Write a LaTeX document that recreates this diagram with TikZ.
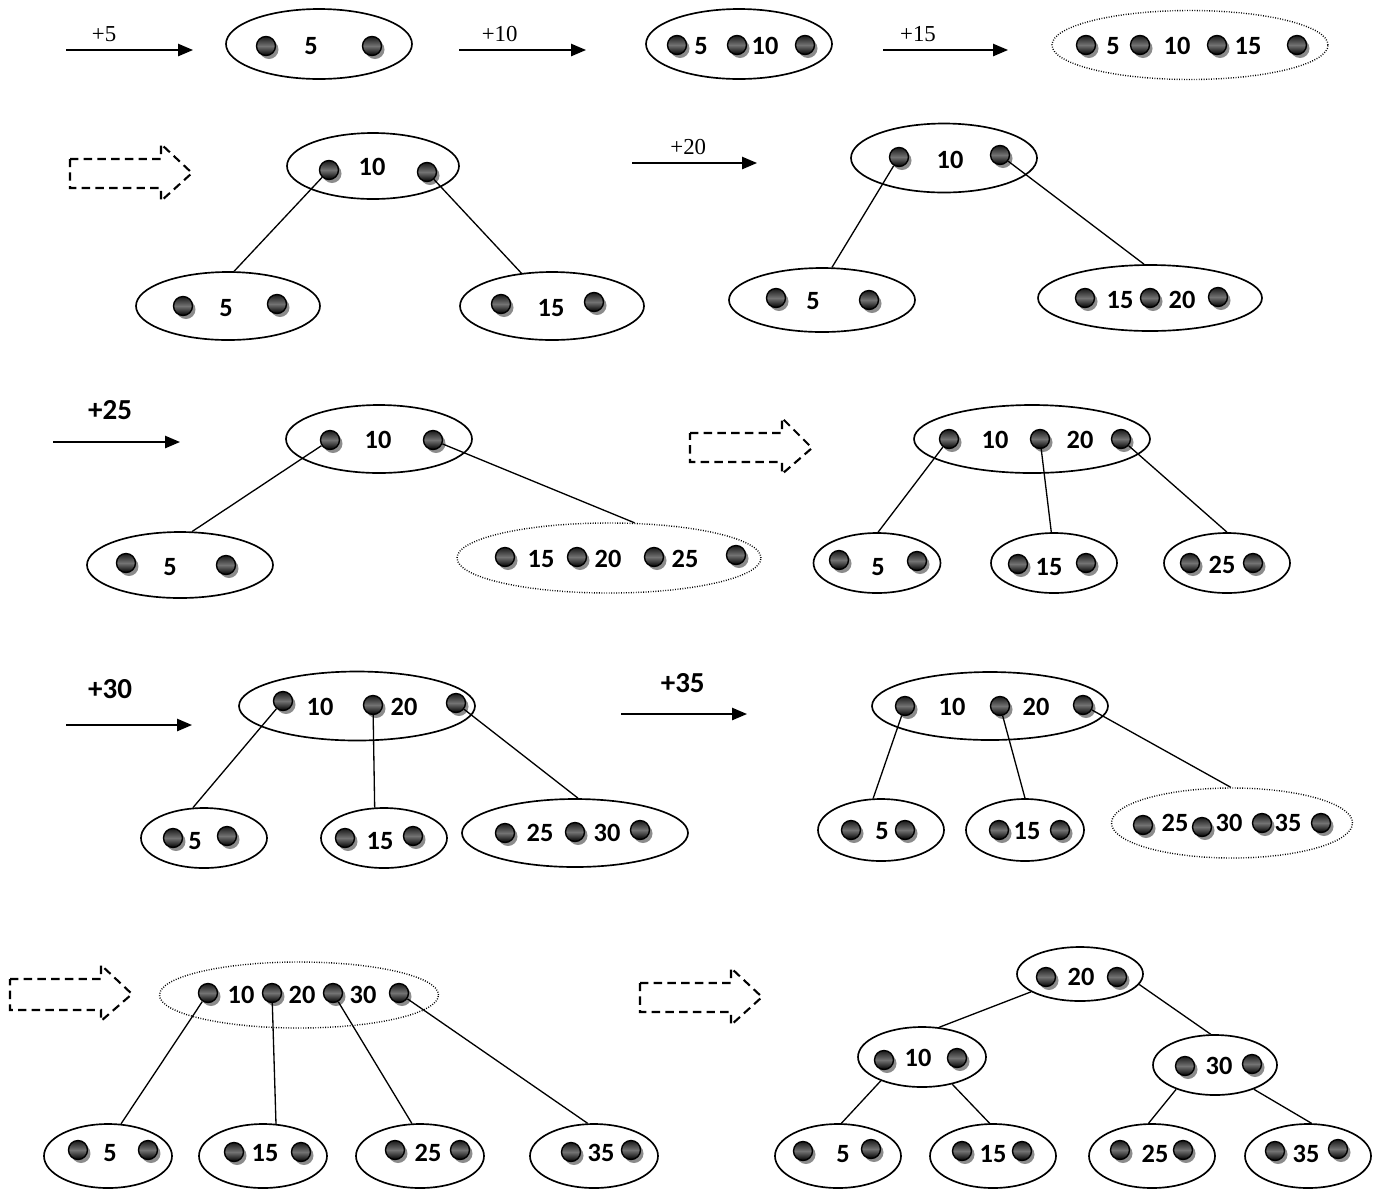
\documentclass[tikz,border=0pt]{standalone}
\usepackage{fontspec}
\newfontfamily\keyfont{Carlito}
\newfontfamily\plusfont{Liberation Serif}
\usetikzlibrary{shapes.geometric, arrows.meta, shadows}

\begin{document}
\begin{tikzpicture}[x=0.02cm, y=-0.02cm, line width=0.75pt,
    bnode/.style 2 args={draw, ellipse, line width=0.95pt, inner sep=0pt,
        minimum width=#1*0.02cm, minimum height=#2*0.02cm},
    overfull/.style 2 args={bnode={#1}{#2}, line width=0.8pt, dash pattern=on 0.5pt off 0.9pt},
    ball/.style={circle, draw, line width=0.8pt, inner sep=0pt, minimum size=0.38cm,
        top color=black!90, bottom color=black, middle color=black!55,
        drop shadow={shadow xshift=0.06cm, shadow yshift=-0.07cm, fill=black!45, opacity=1}},
    key/.style={font=\keyfont\bfseries\fontsize{15pt}{17pt}\selectfont, inner sep=0pt},
    bigplus/.style={font=\keyfont\bfseries\fontsize{16.5pt}{18pt}\selectfont},
    plus/.style={font=\plusfont\fontsize{13pt}{15pt}\selectfont},
    add/.style={-{Triangle[length=8.5pt, width=7pt]}, line width=0.85pt},
    fat/.style={line width=1.2pt, dash pattern=on 4.8pt off 3pt}]
    \useasboundingbox (0,0) rectangle (1379,1188);

    % row 1: inserting 5, 10, 15 into one node
    \coordinate (p5a) at (66,50); \coordinate (p5b) at (193,50);
    \draw[add] (p5a) -- node[plus, pos=0.3, above=1pt] (l5) {+5} (p5b);
    \node[bnode={186}{70}] (k5) at (319,44) {};
    \foreach \p [count=\i] in {(266,46),(372,46)} \node[ball] (k5-\i) at \p {};
    \node[key] (k5-a) at (311,46) {5};

    \coordinate (p10a) at (459,50); \coordinate (p10b) at (586,50);
    \draw[add] (p10a) -- node[plus, pos=0.32, above=1pt] (l10) {+10} (p10b);
    \node[bnode={186}{70}] (k10) at (739,44) {};
    \foreach \p [count=\i] in {(677,45),(737,45),(805,45)} \node[ball] (k10-\i) at \p {};
    \node[key] (k10-a) at (701,46) {5}; \node[key] (k10-b) at (765,46) {10};

    \coordinate (p15a) at (883,50); \coordinate (p15b) at (1008,50);
    \draw[add] (p15a) -- node[plus, pos=0.28, above=1pt] (l15) {+15} (p15b);
    \node[overfull={276}{69}] (k15) at (1190,45) {};
    \foreach \p [count=\i] in {(1086,45),(1140,45),(1217,45),(1297,45)} \node[ball] (k15-\i) at \p {};
    \node[key] (k15-a) at (1113,46) {5}; \node[key] (k15-b) at (1177,46) {10};
    \node[key] (k15-c) at (1248,46) {15};

    % row 2: split, then +20
    \draw[fat] (70,159) -- (161,159) -- (161,144) -- (192,173) -- (161,201) -- (161,188) -- (70,188) -- cycle;
    \node[bnode={172}{66}] (aroot) at (373,166) {};
    \foreach \p [count=\i] in {(329,170),(427,172)} \node[ball] (aroot-\i) at \p {};
    \node[key] (aroot-a) at (372,167) {10};
    \node[bnode={184}{68}] (aleft) at (228,306) {};
    \foreach \p [count=\i] in {(183,306),(277,304)} \node[ball] (aleft-\i) at \p {};
    \node[key] (aleft-a) at (226,308) {5};
    \node[bnode={184}{68}] (aright) at (552,306) {};
    \foreach \p [count=\i] in {(501,304),(594,302)} \node[ball] (aright-\i) at \p {};
    \node[key] (aright-a) at (551,308) {15};
    \draw (aroot-1) -- (aleft.80);
    \draw (aroot-2) -- (aright.133);

    \coordinate (p20a) at (632,163); \coordinate (p20b) at (757,163);
    \draw[add] (p20a) -- node[plus, pos=0.45, above=1pt] (l20) {+20} (p20b);
    \node[bnode={186}{69}] (broot) at (944,158) {};
    \foreach \p [count=\i] in {(899,157),(1000,155)} \node[ball] (broot-\i) at \p {};
    \node[key] (broot-a) at (950,160) {10};
    \node[bnode={186}{64}] (bleft) at (822,300) {};
    \foreach \p [count=\i] in {(776,298),(869,300)} \node[ball] (bleft-\i) at \p {};
    \node[key] (bleft-a) at (813,301) {5};
    \node[bnode={224}{66}] (bright) at (1150,298) {};
    \foreach \p [count=\i] in {(1085,298),(1150,298),(1218,297)} \node[ball] (bright-\i) at \p {};
    \node[key] (bright-a) at (1120,300) {15}; \node[key] (bright-b) at (1182,300) {20};
    \draw (broot-1) -- (bleft.73);
    \draw (broot-2) -- (bright.100);

    % row 3: +25, then split
    \coordinate (p25a) at (53,442); \coordinate (p25b) at (180,442);
    \draw[add] (p25a) -- node[bigplus, pos=0.45, above=9pt] (l25) {+25} (p25b);
    \node[bnode={186}{68}] (croot) at (379,439) {};
    \foreach \p [count=\i] in {(330,440),(433,440)} \node[ball] (croot-\i) at \p {};
    \node[key] (croot-a) at (378,440) {10};
    \node[bnode={186}{66}] (cleft) at (180,565) {};
    \foreach \p [count=\i] in {(126,563),(226,565)} \node[ball] (cleft-\i) at \p {};
    \node[key] (cleft-a) at (170,567) {5};
    \node[overfull={304}{70}] (cright) at (609,558) {};
    \foreach \p [count=\i] in {(505,557),(577,557),(654,557),(736,555)} \node[ball] (cright-\i) at \p {};
    \node[key] (cright-a) at (541,559) {15}; \node[key] (cright-b) at (608,559) {20};
    \node[key] (cright-c) at (685,559) {25};
    \draw (croot-1) -- (cleft.70);
    \draw (croot-2) -- (cright.54);

    \draw[fat] (690,433) -- (782,433) -- (782,418) -- (812,448) -- (782,474) -- (782,462) -- (690,462) -- cycle;
    \node[bnode={236}{68}] (droot) at (1032,439) {};
    \foreach \p [count=\i] in {(949,439),(1040,439),(1121,439)} \node[ball] (droot-\i) at \p {};
    \node[key] (droot-a) at (995,440) {10}; \node[key] (droot-b) at (1080,440) {20};
    \node[bnode={127}{60}] (dl) at (877,563) {};
    \foreach \p [count=\i] in {(839,560),(917,561)} \node[ball] (dl-\i) at \p {};
    \node[key] (dl-a) at (878,567) {5};
    \node[bnode={126}{60}] (dm) at (1054,563) {};
    \foreach \p [count=\i] in {(1018,564),(1086,563)} \node[ball] (dm-\i) at \p {};
    \node[key] (dm-a) at (1049,567) {15};
    \node[bnode={126}{60}] (dr) at (1227,563) {};
    \foreach \p [count=\i] in {(1190,563),(1253,563)} \node[ball] (dr-\i) at \p {};
    \node[key] (dr-a) at (1222,565) {25};
    \draw (droot-1) -- (dl.88);
    \draw (droot-2) -- (dm.95);
    \draw (droot-3) -- (dr.north);

    % row 4: +30, +35
    \coordinate (p30a) at (66,725); \coordinate (p30b) at (192,725);
    \draw[add] (p30a) -- node[bigplus, pos=0.35, above=11pt] (l30) {+30} (p30b);
    \node[bnode={236}{69}] (eroot) at (357,706) {};
    \foreach \p [count=\i] in {(283,701),(373,705),(456,703)} \node[ball] (eroot-\i) at \p {};
    \node[key] (eroot-a) at (320,707) {10}; \node[key] (eroot-b) at (404,707) {20};
    \node[bnode={126}{60}] (el) at (204,838) {};
    \foreach \p [count=\i] in {(173,838),(227,836)} \node[ball] (el-\i) at \p {};
    \node[key] (el-a) at (195,841) {5};
    \node[bnode={126}{60}] (em) at (384,838) {};
    \foreach \p [count=\i] in {(345,838),(413,836)} \node[ball] (em-\i) at \p {};
    \node[key] (em-a) at (380,841) {15};
    \node[bnode={226}{68}] (er) at (575,833) {};
    \foreach \p [count=\i] in {(505,833),(575,832),(640,830)} \node[ball] (er-\i) at \p {};
    \node[key] (er-a) at (540,833) {25}; \node[key] (er-b) at (607,833) {30};
    \draw (eroot-1) -- (el.110);
    \draw (eroot-2) -- (em.107);
    \draw (eroot-3) -- (er.85);

    \coordinate (p35a) at (621,714); \coordinate (p35b) at (747,714);
    \draw[add] (p35a) -- node[bigplus, pos=0.49, above=8.5pt] (l35) {+35} (p35b);
    \node[bnode={236}{68}] (froot) at (990,706) {};
    \foreach \p [count=\i] in {(905,706),(1000,706),(1083,705)} \node[ball] (froot-\i) at \p {};
    \node[key] (froot-a) at (952,707) {10}; \node[key] (froot-b) at (1036,707) {20};
    \node[bnode={126}{62}] (fl) at (881,830) {};
    \foreach \p [count=\i] in {(851,830),(905,830)} \node[ball] (fl-\i) at \p {};
    \node[key] (fl-a) at (882,831) {5};
    \node[bnode={118}{62}] (fm) at (1025,830) {};
    \foreach \p [count=\i] in {(999,830),(1060,830)} \node[ball] (fm-\i) at \p {};
    \node[key] (fm-a) at (1027,831) {15};
    \node[overfull={241}{70}] (fr) at (1232,823) {};
    \foreach \p [count=\i] in {(1143,825),(1202,827),(1262,823),(1321,823)} \node[ball] (fr-\i) at \p {};
    \node[key] (fr-a) at (1175,823) {25}; \node[key] (fr-b) at (1229,823) {30};
    \node[key] (fr-c) at (1288,823) {35};
    \draw (froot-1) -- (fl.104);
    \draw (froot-2) -- (fm.90);
    \draw (froot-3) -- (fr.92);

    % row 5: root overflows, then the new root
    \draw[fat] (10,979) -- (101,979) -- (101,965) -- (132,994) -- (101,1021) -- (101,1010) -- (10,1010) -- cycle;
    \node[overfull={279}{66}] (groot) at (299,995) {};
    \foreach \p [count=\i] in {(208,993),(272,993),(333,993),(399,993)} \node[ball] (groot-\i) at \p {};
    \node[key] (groot-a) at (241,995) {10}; \node[key] (groot-b) at (302,995) {20};
    \node[key] (groot-c) at (363,995) {30};
    \node[bnode={128}{64}] (g1) at (108,1156) {};
    \foreach \p [count=\i] in {(78,1150),(148,1150)} \node[ball] (g1-\i) at \p {};
    \node[key] (g1-a) at (110,1153) {5};
    \node[bnode={128}{64}] (g2) at (263,1156) {};
    \foreach \p [count=\i] in {(234,1152),(301,1152)} \node[ball] (g2-\i) at \p {};
    \node[key] (g2-a) at (265,1153) {15};
    \node[bnode={128}{64}] (g3) at (420,1156) {};
    \foreach \p [count=\i] in {(395,1150),(460,1150)} \node[ball] (g3-\i) at \p {};
    \node[key] (g3-a) at (428,1153) {25};
    \node[bnode={128}{64}] (g4) at (594,1156) {};
    \foreach \p [count=\i] in {(571,1152),(631,1150)} \node[ball] (g4-\i) at \p {};
    \node[key] (g4-a) at (601,1153) {35};
    \draw (groot-1) -- (g1.68);
    \draw (groot-2) -- (g2.68);
    \draw (groot-3) -- (g3.104);
    \draw (groot-4) -- (g4.101);

    \draw[fat] (640,983) -- (731,983) -- (731,968) -- (762,997) -- (731,1025) -- (731,1012) -- (640,1012) -- cycle;
    \node[bnode={126}{54}] (hroot) at (1080,974) {};
    \foreach \p [count=\i] in {(1046,977),(1117,977)} \node[ball] (hroot-\i) at \p {};
    \node[key] (hroot-a) at (1081,977) {20};
    \node[bnode={128}{60}] (hl) at (922,1057) {};
    \foreach \p [count=\i] in {(884,1060),(957,1058)} \node[ball] (hl-\i) at \p {};
    \node[key] (hl-a) at (918,1058) {10};
    \node[bnode={124}{60}] (hr) at (1215,1065) {};
    \foreach \p [count=\i] in {(1185,1066),(1252,1064)} \node[ball] (hr-\i) at \p {};
    \node[key] (hr-a) at (1219,1066) {30};
    \node[bnode={126}{64}] (h1) at (838,1156) {};
    \foreach \p [count=\i] in {(803,1151),(871,1149)} \node[ball] (h1-\i) at \p {};
    \node[key] (h1-a) at (843,1154) {5};
    \node[bnode={126}{64}] (h2) at (993,1156) {};
    \foreach \p [count=\i] in {(962,1151),(1022,1151)} \node[ball] (h2-\i) at \p {};
    \node[key] (h2-a) at (993,1154) {15};
    \node[bnode={126}{64}] (h3) at (1152,1156) {};
    \foreach \p [count=\i] in {(1120,1150),(1183,1150)} \node[ball] (h3-\i) at \p {};
    \node[key] (h3-a) at (1155,1154) {25};
    \node[bnode={126}{64}] (h4) at (1308,1156) {};
    \foreach \p [count=\i] in {(1275,1151),(1338,1149)} \node[ball] (h4-\i) at \p {};
    \node[key] (h4-a) at (1306,1154) {35};
    \draw (hroot.200) -- (hl.60);
    \draw (hroot.350) -- (hr.98);
    \draw (hl.210) -- (h1.84);
    \draw (hl.318) -- (h2.96);
    \draw (hr.212) -- (h3.96);
    \draw (hr.328) -- (h4.84);
\end{tikzpicture}
\end{document}
